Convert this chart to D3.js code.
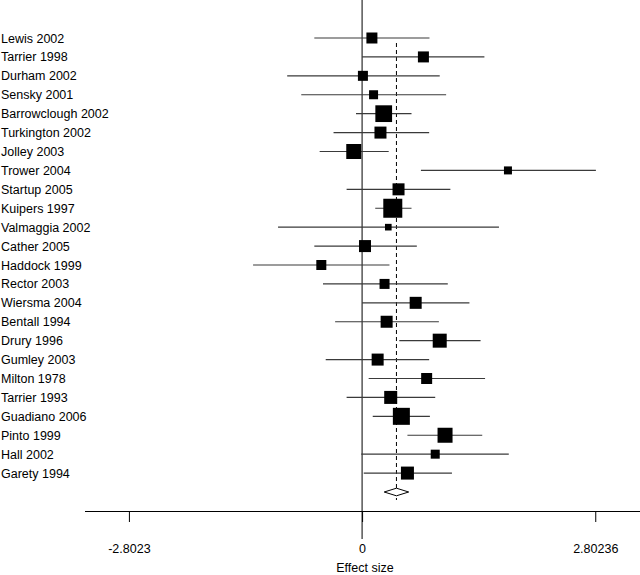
<!DOCTYPE html>
<html><head><meta charset="utf-8">
<script src="https://cdn.jsdelivr.net/npm/d3@7"></script>
<style>body{margin:0;background:#fff}svg{display:block}text{font-family:"Liberation Sans",Arial,sans-serif;fill:#000}</style>
</head><body><svg id="c" width="640" height="575"></svg>
<script>
const studies = ["Lewis 2002","Tarrier 1998","Durham 2002","Sensky 2001","Barrowclough 2002","Turkington 2002","Jolley 2003","Trower 2004","Startup 2005","Kuipers 1997","Valmaggia 2002","Cather 2005","Haddock 1999","Rector 2003","Wiersma 2004","Bentall 1994","Drury 1996","Gumley 2003","Milton 1978","Tarrier 1993","Guadiano 2006","Pinto 1999","Hall 2002","Garety 1994"];
const effect = [0.118,0.737,0.01,0.138,0.26,0.221,-0.10,1.753,0.438,0.369,0.315,0.035,-0.49,0.27,0.644,0.295,0.933,0.187,0.776,0.344,0.472,0.997,0.879,0.545];
const lower  = [-0.574,0.0,-0.90,-0.731,-0.073,-0.343,-0.51,0.707,-0.186,0.158,-1.01,-0.574,-1.31,-0.47,0.0,-0.324,0.447,-0.437,0.079,-0.186,0.128,0.545,-0.01,0.02];
const upper  = [0.81,1.47,0.933,1.01,0.594,0.806,0.32,2.81,1.061,0.594,1.645,0.658,0.329,1.03,1.29,0.923,1.424,0.806,1.478,0.879,0.815,1.444,1.763,1.08];
const weight = [12.1,12.1,10,8.1,28,14.4,22.5,6.4,14.4,36.1,4.4,14.4,10,10,14.4,14.4,19.6,14.4,12.1,16.9,28.9,22.5,8.1,16.9];
const pooled = {est:0.413, lo:0.266, hi:0.56};
const tickValues = [-2.8023, 0, 2.80236];
const tickLabels = ["-2.8023","0","2.80236"];
const xTitle = "Effect size";

const svg = d3.select("#c");
const x = d3.scaleLinear().domain([-3.33, 3.34]).range([85, 640]);
const rows = studies.concat(["__pooled"]);
const y = d3.scalePoint().domain(rows).range([38, 492]);
const side = d3.scaleSqrt().domain([0, 36.1]).range([0, 19]);
const ink = "#000";

// vertical null line
svg.append("line").attr("x1", x(0)).attr("x2", x(0)).attr("y1", 0).attr("y2", 539)
  .attr("stroke", ink).attr("stroke-width", 1);
// dashed pooled line
svg.append("line").attr("x1", x(pooled.est)).attr("x2", x(pooled.est)).attr("y1", 43).attr("y2", 500)
  .attr("stroke", ink).attr("stroke-width", 1).attr("stroke-dasharray", "4,3");

const g = svg.append("g");
const data = studies.map((s, i) => ({s, e: effect[i], lo: lower[i], hi: upper[i], w: weight[i]}));
g.selectAll("line.ci").data(data).join("line").attr("class", "ci")
  .attr("x1", d => x(d.lo)).attr("x2", d => x(d.hi))
  .attr("y1", d => y(d.s)).attr("y2", d => y(d.s))
  .attr("stroke", "#3a3a3a").attr("stroke-width", 1.2);
g.selectAll("rect.sq").data(data).join("rect").attr("class", "sq")
  .attr("x", d => x(d.e) - side(d.w) / 2).attr("y", d => y(d.s) - side(d.w) / 2)
  .attr("width", d => side(d.w)).attr("height", d => side(d.w)).attr("fill", ink);
g.selectAll("text.lab").data(data).join("text").attr("class", "lab")
  .attr("x", 1).attr("y", d => y(d.s) + 4.5).attr("font-size", 12.5).text(d => d.s);

// pooled diamond
const yp = y("__pooled");
svg.append("path")
  .attr("d", `M${x(pooled.lo)},${yp}L${x(pooled.est)},${yp - 3.8}L${x(pooled.hi)},${yp}L${x(pooled.est)},${yp + 3.8}Z`)
  .attr("fill", "#fff").attr("stroke", ink).attr("stroke-width", 1);

// x axis
const axis = d3.axisBottom(x).tickValues(tickValues).tickFormat((d, i) => tickLabels[i]).tickSize(11).tickPadding(22);
const ax = svg.append("g").attr("transform", "translate(0,511)").call(axis);
ax.select(".domain").attr("d", `M${x.range()[0]},0.5H${x.range()[1]}`).attr("stroke", ink);
ax.selectAll(".tick line").attr("stroke", ink);
ax.selectAll(".tick text").attr("font-size", 12.5).attr("font-family", "Liberation Sans, Arial, sans-serif").attr("fill", ink);
svg.append("text").attr("x", 365).attr("y", 572).attr("text-anchor", "middle").attr("font-size", 12.5).text(xTitle);
</script></body></html>
